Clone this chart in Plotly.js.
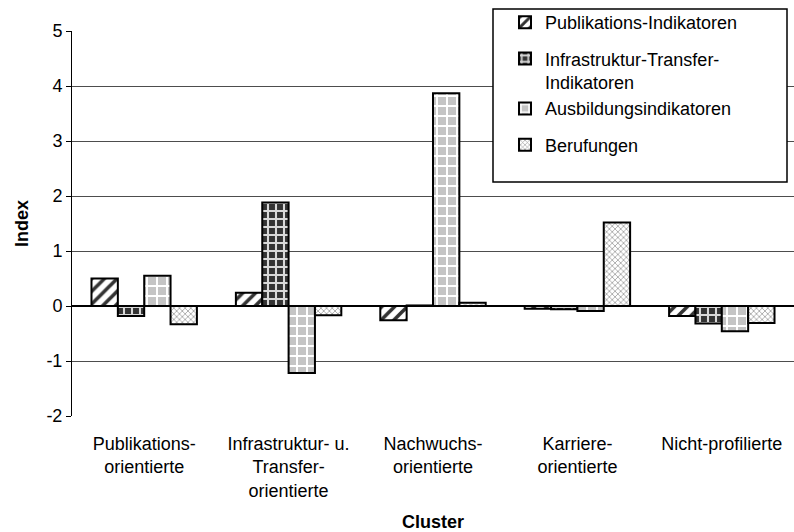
<!DOCTYPE html>
<html>
<head>
<meta charset="utf-8">
<script src="https://cdn.plot.ly/plotly-3.0.1.min.js"></script>
<style>html,body{margin:0;padding:0;background:#fff;}#chart{width:794px;height:532px;}</style>
</head>
<body>
<div id="chart"></div>
<script>
const categories = ["Publikations-<br>orientierte", "Infrastruktur- u.<br>Transfer-<br>orientierte", "Nachwuchs-<br>orientierte", "Karriere-<br>orientierte", "Nicht-profilierte"];
const seriesNames = ["Publikations-Indikatoren", "Infrastruktur-Transfer-<br>Indikatoren", "Ausbildungsindikatoren", "Berufungen"];
const publikationen = [0.50, 0.24, -0.26, -0.05, -0.18];
const infrastruktur = [-0.18, 1.88, 0.01, -0.06, -0.32];
const ausbildung = [0.55, -1.22, 3.87, -0.09, -0.46];
const berufungen = [-0.33, -0.17, 0.06, 1.52, -0.31];
const yTicks = [-2, -1, 0, 1, 2, 3, 4, 5];

const FONT = "Liberation Sans, Arial, sans-serif";
const FS = 18;
const patterns = [
  {shape: "/", fgcolor: "#333333", bgcolor: "#ffffff", size: 9, solidity: 0.4},
  {shape: "+", fgcolor: "#d8d8d8", bgcolor: "#333333", size: 8, solidity: 0.45},
  {shape: "+", fgcolor: "#ffffff", bgcolor: "#c4c4c4", size: 10, solidity: 0.35},
  {shape: "x", fgcolor: "#9a9a9a", bgcolor: "#ffffff", size: 4, solidity: 0.35}
];
const groups = ["g1", "g2", "g2", "g3"];
const values = [publikationen, infrastruktur, ausbildung, berufungen];

const traces = values.map((v, i) => ({
  type: "bar",
  x: categories,
  y: v,
  name: seriesNames[i],
  legendgroup: groups[i],
  marker: {
    color: patterns[i].bgcolor,
    line: {color: "#000000", width: 2},
    pattern: patterns[i]
  },
  hoverinfo: "skip"
}));

const boxX0 = (493 - 72) / 722, boxX1 = (787 - 72) / 722;
const boxY1 = (416 - 9) / 385, boxY0 = (416 - 182) / 385;

const layout = {
  width: 794, height: 532,
  margin: {l: 72, r: 0, t: 31, b: 116},
  paper_bgcolor: "#ffffff", plot_bgcolor: "#ffffff",
  font: {family: FONT, size: FS, color: "#000000"},
  barmode: "group",
  bargap: 0.27,
  bargroupgap: 0,
  showlegend: true,
  legend: {
    x: (505 - 72) / 722, y: boxY1 + 0.013, xanchor: "left", yanchor: "top",
    bgcolor: "rgba(0,0,0,0)", borderwidth: 0,
    font: {family: FONT, size: FS, color: "#000000"},
    tracegroupgap: 10, valign: "top", traceorder: "grouped"
  },
  xaxis: {
    type: "category",
    showgrid: false, showline: false, ticks: "", zeroline: false,
    tickfont: {family: FONT, size: FS, color: "#000000"},
    ticklabelstandoff: 15,
    automargin: false,
    title: {text: "<b>Cluster</b>", font: {family: FONT, size: FS, color: "#000000"}, standoff: 27}
  },
  xaxis2: {
    overlaying: "x", anchor: "free", position: 2 / 7,
    type: "linear", range: [-0.5, 4.5],
    tickvals: [0.5, 1.5, 2.5, 3.5], ticks: "outside", ticklen: 5, tickwidth: 1, tickcolor: "#000000",
    showticklabels: false, showgrid: false, showline: false, zeroline: false
  },
  yaxis: {
    range: [-2, 5], tickvals: yTicks, ticktext: yTicks.map(String),
    showgrid: true, gridcolor: "#4d4d4d", gridwidth: 1,
    zeroline: true, zerolinecolor: "#000000", zerolinewidth: 2,
    showline: true, linecolor: "#000000", linewidth: 1,
    ticks: "outside", ticklen: 5, tickcolor: "#000000",
    tickfont: {family: FONT, size: FS, color: "#000000"},
    automargin: false,
    title: {text: "<b>Index</b>", font: {family: FONT, size: FS, color: "#000000"}, standoff: 13}
  },
  shapes: [{
    type: "rect", xref: "paper", yref: "paper",
    x0: boxX0, x1: boxX1, y0: boxY0, y1: boxY1,
    line: {color: "#000000", width: 1.5}, fillcolor: "#ffffff", layer: "above"
  }]
};

Plotly.newPlot("chart", traces, layout, {displayModeBar: false, staticPlot: true});
</script>
</body>
</html>
